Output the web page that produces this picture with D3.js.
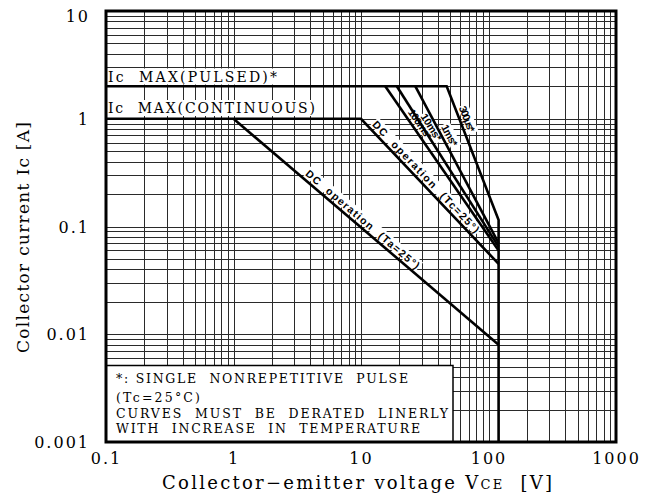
<!DOCTYPE html>
<html>
<head>
<meta charset="utf-8">
<script src="https://cdn.jsdelivr.net/npm/d3@7"></script>
<style>
  html, body { margin: 0; padding: 0; background: #fff; }
  svg { display: block; }
  text { white-space: pre; }
</style>
</head>
<body>
<svg id="chart" width="659" height="497"></svg>
<script>
// ---------- data ----------
const xTickValues = [0.1, 1, 10, 100, 1000];
const xTickLabels = ["0.1", "1", "10", "100", "1000"];
const yTickValues = [0.001, 0.01, 0.1, 1, 10];
const yTickLabels = ["0.001", "0.01", "0.1", "1", "10"];

// Ic max (pulsed) + 300us curve + VCE max boundary
const pulsedV = [0.1, 47, 120, 120];
const pulsedI = [2, 2, 0.115, 0.001];
// Ic max (continuous) + DC operation (Tc=25°)
const continuousV = [0.1, 10, 120];
const continuousI = [1, 1, 0.045];
// DC operation (Ta=25°)
const dcTaV = [1, 120];
const dcTaI = [1, 0.008];
// pulse curves
const ms100V = [15.5, 120];
const ms100I = [2, 0.06];
const ms10V = [19.1, 120];
const ms10I = [2, 0.065];
const ms1V = [26.7, 120];
const ms1I = [2, 0.07];

const legendLines = [
  "*: SINGLE  NONREPETITIVE  PULSE",
  "(Tc=25°C)",
  "CURVES  MUST  BE  DERATED  LINERLY",
  "WITH  INCREASE  IN  TEMPERATURE"
];

// ---------- layout ----------
const L = 106, R = 616, T = 11, B = 442;
const svg = d3.select("#chart");
const x = d3.scaleLog().domain([0.1, 1000]).range([L, R]);
const y = d3.scaleLog().domain([0.001, 10]).range([B, T]);

const serif = "'DejaVu Serif', 'Liberation Serif', serif";
const sans = "'Liberation Sans', Arial, sans-serif";

// ---------- grid ----------
const gridX = x.ticks();
const gridY = y.ticks();
const grid = svg.append("g").attr("shape-rendering", "crispEdges");
grid.selectAll("line.gx").data(gridX).join("line")
  .attr("x1", d => Math.round(x(d)) + 0.5).attr("x2", d => Math.round(x(d)) + 0.5)
  .attr("y1", T).attr("y2", B)
  .attr("stroke", "#2a2a2a").attr("stroke-width", 1);
grid.selectAll("line.gy").data(gridY).join("line")
  .attr("y1", d => Math.round(y(d)) + 0.5).attr("y2", d => Math.round(y(d)) + 0.5)
  .attr("x1", L).attr("x2", R)
  .attr("stroke", "#2a2a2a").attr("stroke-width", 1);

// ---------- Ic max labels ----------
function boxedText(tx, ty, str, size, len) {
  const g = svg.append("g");
  const t = g.append("text")
    .attr("x", tx).attr("y", ty)
    .attr("font-family", serif).attr("font-size", size)
    .attr("fill", "#000")
    .attr("textLength", len).attr("lengthAdjust", "spacing")
    .text(str);
  const bb = t.node().getBBox();
  g.insert("rect", "text")
    .attr("x", bb.x - 1).attr("y", bb.y)
    .attr("width", bb.width + 3).attr("height", bb.height)
    .attr("fill", "#fff");
  return g;
}
boxedText(108, 81.5, "Ic  MAX(PULSED)*", 14, 169);
boxedText(108, 113, "Ic  MAX(CONTINUOUS)", 14, 207);

// ---------- legend box ----------
svg.append("rect")
  .attr("x", L).attr("y", 365.5)
  .attr("width", 347).attr("height", B - 365.5)
  .attr("fill", "#fff").attr("stroke", "#000").attr("stroke-width", 1.5);
const legendY = [383.3, 401.7, 417.7, 432.7];
const legendLen = [292, 84, 332, 304];
svg.append("g").selectAll("text").data(legendLines).join("text")
  .attr("x", 116).attr("y", (d, i) => legendY[i])
  .attr("font-family", serif).attr("font-size", 12.5)
  .attr("textLength", (d, i) => legendLen[i]).attr("lengthAdjust", "spacing")
  .text(d => d);

// ---------- curve labels ----------
function lineLabel(vs, is, seg, t, str, len) {
  const ax = x(vs[seg]), ay = y(is[seg]);
  const bx = x(vs[seg + 1]), by = y(is[seg + 1]);
  const ang = Math.atan2(by - ay, bx - ax) * 180 / Math.PI;
  const px = ax + t * (bx - ax), py = ay + t * (by - ay);
  const g = svg.append("g").attr("transform", `translate(${px},${py}) rotate(${ang})`);
  const txt = g.append("text")
    .attr("x", 0).attr("y", -3.5)
    .attr("font-family", sans).attr("font-weight", "bold").attr("font-size", 10.5)
    .attr("textLength", len).attr("lengthAdjust", "spacing")
    .text(str);
  const bb = txt.node().getBBox();
  g.insert("rect", "text")
    .attr("x", bb.x - 1).attr("y", bb.y)
    .attr("width", bb.width + 2).attr("height", bb.height - 1)
    .attr("fill", "#fff");
}
lineLabel(dcTaV, dcTaI, 0, 0.26, "DC  operation  (Ta=25°)", 146);
lineLabel(continuousV, continuousI, 1, 0.06, "DC  operation  (Tc=25°)", 150);
lineLabel(ms100V, ms100I, 0, 0.17, "100ms*", 34);
lineLabel(ms10V, ms10I, 0, 0.2, "10ms*", 30);
lineLabel(ms1V, ms1I, 0, 0.27, "1ms*", 23);
lineLabel(pulsedV, pulsedI, 1, 0.17, "300μs*", 27);

// ---------- curves ----------
const lineGen = d3.line().x(d => x(d[0])).y(d => y(d[1]));
const curves = [
  [pulsedV, pulsedI],
  [continuousV, continuousI],
  [dcTaV, dcTaI],
  [ms100V, ms100I],
  [ms10V, ms10I],
  [ms1V, ms1I]
];
svg.append("g").selectAll("path").data(curves).join("path")
  .attr("d", c => lineGen(c[0].map((v, i) => [v, c[1][i]])))
  .attr("fill", "none").attr("stroke", "#000").attr("stroke-width", 2.6)
  .attr("stroke-linejoin", "miter");

// ---------- frame ----------
svg.append("rect")
  .attr("x", L).attr("y", T).attr("width", R - L).attr("height", B - T)
  .attr("fill", "none").attr("stroke", "#000").attr("stroke-width", 3);

// ---------- axes ----------
const xAxis = svg.append("g").attr("transform", `translate(0,${B})`)
  .call(d3.axisBottom(x).tickValues(xTickValues)
    .tickFormat((d, i) => xTickLabels[i]).tickSize(0));
xAxis.select(".domain").remove();
xAxis.selectAll("text")
  .attr("y", 21.5).attr("dy", 0)
  .attr("font-family", serif).attr("font-size", 16)
  .attr("letter-spacing", 2).attr("fill", "#000");

const yAxis = svg.append("g").attr("transform", `translate(${L},0)`)
  .call(d3.axisLeft(y).tickValues(yTickValues)
    .tickFormat((d, i) => yTickLabels[i]).tickSize(0));
yAxis.select(".domain").remove();
yAxis.selectAll("text")
  .attr("x", -16).attr("dy", d => d === 10 ? "0.68em" : "0.35em")
  .attr("font-family", serif).attr("font-size", 16)
  .attr("letter-spacing", 2).attr("fill", "#000");

// ---------- axis titles ----------
const xt = svg.append("text")
  .attr("x", 162).attr("y", 489)
  .attr("font-family", serif).attr("font-size", 18)
  .attr("textLength", 390).attr("lengthAdjust", "spacing");
xt.append("tspan").text("Collector−emitter voltage V");
xt.append("tspan").attr("font-size", 13).text("CE");
xt.append("tspan").text("  [V]");

svg.append("text")
  .attr("transform", "translate(29,237.5) rotate(-90)")
  .attr("text-anchor", "middle")
  .attr("font-family", serif).attr("font-size", 17)
  .attr("textLength", 231).attr("lengthAdjust", "spacing")
  .text("Collector current Ic [A]");
</script>
</body>
</html>
